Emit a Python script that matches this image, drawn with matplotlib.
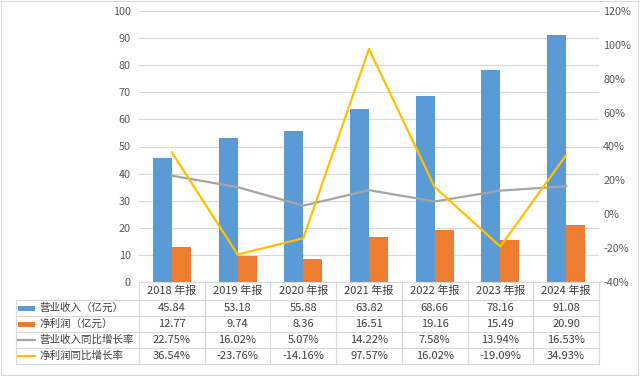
import matplotlib
matplotlib.use("Agg")
import matplotlib.pyplot as plt
from matplotlib.patches import Rectangle
from matplotlib.lines import Line2D
import numpy as np

plt.rcParams['font.family'] = ['Noto Sans CJK SC', 'DejaVu Sans']

# ---- data ----
categories = ["2018 年报", "2019 年报", "2020 年报", "2021 年报", "2022 年报", "2023 年报", "2024 年报"]
revenue = [45.84, 53.18, 55.88, 63.82, 68.66, 78.16, 91.08]
net_profit = [12.77, 9.74, 8.36, 16.51, 19.16, 15.49, 20.90]
revenue_growth = [22.75, 16.02, 5.07, 14.22, 7.58, 13.94, 16.53]
profit_growth = [36.54, -23.76, -14.16, 97.57, 16.02, -19.09, 34.93]
series_names = ["营业收入（亿元）", "净利润（亿元）", "营业收入同比增长率", "净利润同比增长率"]

BLUE, ORANGE, GRAY, YELLOW = "#5B9BD5", "#ED7D31", "#A5A5A5", "#FFC000"
TXT = "#404040"
GRID = "#D9D9D9"

W, H = 640, 376
fig = plt.figure(figsize=(W / 100, H / 100), dpi=100)

def fx(px):
    return px / W

def fy(py):
    return 1 - py / H

# plot area in pixels
x0, x1, ytop, ybot = 139, 599, 11, 282
ax = fig.add_axes([fx(x0), fy(ybot), fx(x1) - fx(x0), fy(ytop) - fy(ybot)])
n = len(categories)
x = np.arange(n)
bw = 0.29
ax.bar(x - bw / 2, revenue, bw, color=BLUE, zorder=2)
ax.bar(x + bw / 2, net_profit, bw, color=ORANGE, zorder=2)
ax.set_xlim(-0.5, n - 0.5)
ax.set_ylim(0, 100)
ax.set_yticks(range(0, 101, 10))
ax.yaxis.grid(True, color=GRID, linewidth=0.8, zorder=0)
ax.set_xticks([])
for s in ["top", "right", "left"]:
    ax.spines[s].set_visible(False)
ax.spines["bottom"].set_color(GRID)
ax.tick_params(axis="y", length=0, labelsize=7.8, labelcolor="#595959", pad=6)

ax2 = ax.twinx()
ax2.plot(x, revenue_growth, color=GRAY, linewidth=1.6, zorder=3)
ax2.plot(x, profit_growth, color=YELLOW, linewidth=1.6, zorder=3)
ax2.set_ylim(-40, 120)
ax2.set_yticks(range(-40, 121, 20))
ax2.set_yticklabels([f"{v}%" for v in range(-40, 121, 20)])
ax2.tick_params(axis="y", length=0, labelsize=7.8, labelcolor="#595959", pad=3)
for s in ax2.spines.values():
    s.set_visible(False)

# ---- data table under the plot ----
col_w = (x1 - x0) / n
row_y = [282, 300, 316, 332, 348, 364]
tl = 16
lc = dict(color=GRID, linewidth=0.8)

def hline(y, xa, xb):
    fig.add_artist(Line2D([fx(xa), fx(xb)], [fy(y), fy(y)], **lc))

def vline(xp, ya, yb):
    fig.add_artist(Line2D([fx(xp), fx(xp)], [fy(ya), fy(yb)], **lc))

for y in row_y[1:]:
    hline(y, tl, x1)
vline(tl, row_y[1], row_y[-1])
for i in range(n + 1):
    vline(x0 + i * col_w, row_y[0], row_y[-1])

for i, c in enumerate(categories):
    fig.text(fx(x0 + (i + 0.5) * col_w), fy((row_y[0] + row_y[1]) / 2), c,
             ha="center", va="center", fontsize=8, color=TXT)

rows = [
    [f"{v:.2f}" for v in revenue],
    [f"{v:.2f}" for v in net_profit],
    [f"{v:.2f}%" for v in revenue_growth],
    [f"{v:.2f}%" for v in profit_growth],
]
for r, vals in enumerate(rows):
    yc = fy((row_y[r + 1] + row_y[r + 2]) / 2)
    for i, v in enumerate(vals):
        fig.text(fx(x0 + (i + 0.5) * col_w), yc, v, ha="center", va="center",
                 fontsize=8, color=TXT)
    fig.text(fx(39), yc, series_names[r], ha="left", va="center", fontsize=7.6, color=TXT)

# legend keys inside the table
for r, col in enumerate([BLUE, ORANGE]):
    yc = (row_y[r + 1] + row_y[r + 2]) / 2
    fig.add_artist(Rectangle((fx(18), fy(yc + 2.5)), fx(35) - fx(18), 5 / H,
                             facecolor=col, edgecolor="none"))
for r, col in [(2, GRAY), (3, YELLOW)]:
    yc = (row_y[r + 1] + row_y[r + 2]) / 2
    fig.add_artist(Line2D([fx(18), fx(35)], [fy(yc), fy(yc)], color=col, linewidth=1.6))

# outer chart border
fig.add_artist(Rectangle((fx(1), fy(375)), fx(638) - fx(1), (374) / H,
                         fill=False, edgecolor=GRID, linewidth=0.8))

fig.savefig("out.png", dpi=100, facecolor="white")
